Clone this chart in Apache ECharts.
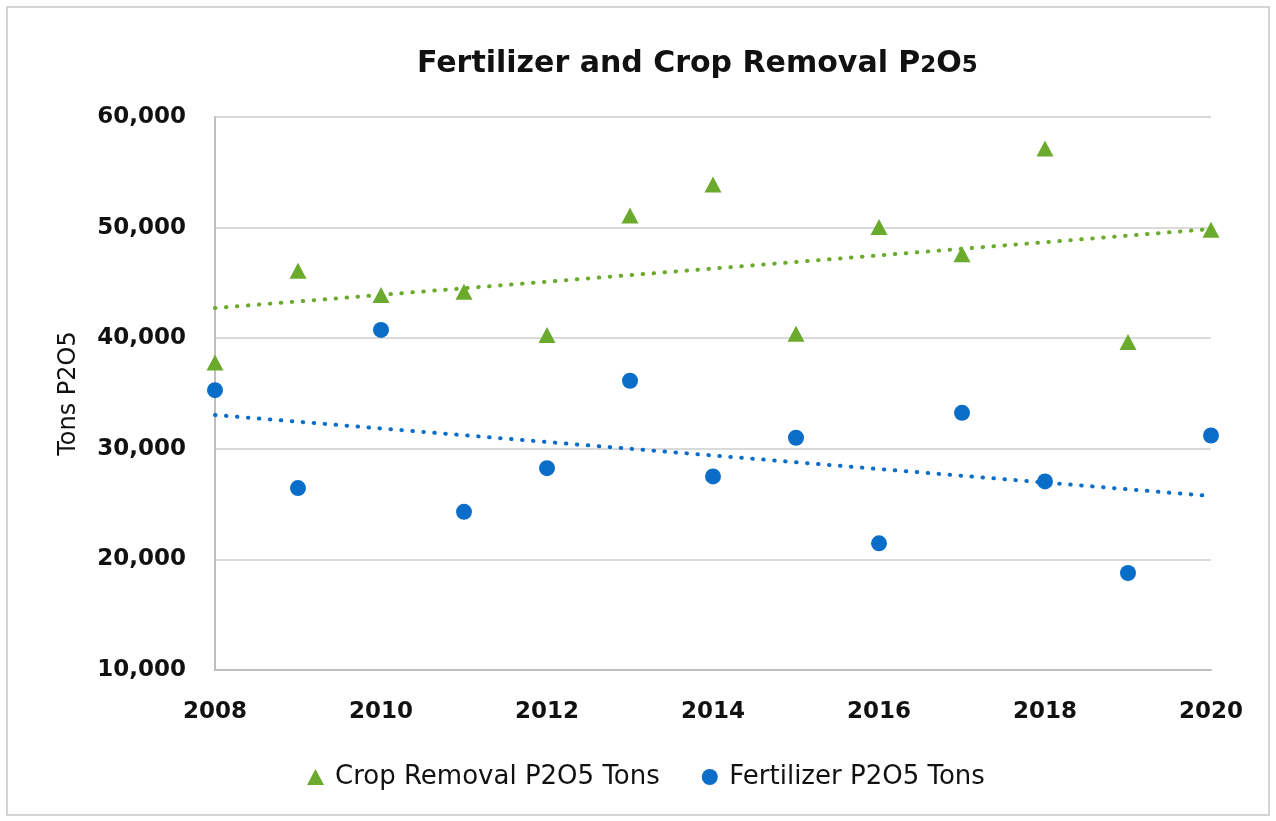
<!DOCTYPE html>
<html>
<head>
<meta charset="utf-8">
<script src="https://cdn.jsdelivr.net/npm/echarts@6/dist/echarts.min.js"></script>
<style>
  html, body { margin: 0; padding: 0; background: #fff; }
  #main { width: 1276px; height: 821px; }
</style>
</head>
<body>
<div id="main"></div>
<script>
// years on the x axis
var years = [2008, 2009, 2010, 2011, 2012, 2013, 2014, 2015, 2016, 2017, 2018, 2019, 2020];

// tons P2O5
var cropRemoval = [37800, 46100, 43900, 44200, 40300, 51100, 53900, 40400, 50050, 47600, 57150, 39650, 49800];
var fertilizer  = [35300, 26450, 40750, 24300, 28250, 36150, 27500, 31000, 21450, 33250, 27050, 18770, 31200];

// dotted trend lines, end points as drawn in the picture
var trendYears = [2008, 2020];
var cropTrend  = [42730, 49870];
var fertTrend  = [33060, 25730];

var GREEN = '#6aab2e';
var BLUE  = '#0a6ec9';

function pairs(xs, ys) {
  var res = [];
  for (var i = 0; i < xs.length; i++) res.push([xs[i], ys[i]]);
  return res;
}

var chart = echarts.init(document.getElementById('main'));
var FONT = 'DejaVu Sans';

chart.setOption({
  animation: false,
  backgroundColor: '#fff',
  textStyle: { fontFamily: FONT },
  title: {
    text: 'Fertilizer and Crop Removal P{s|2}O{s|5}',
    left: 412,
    top: 44,
    textStyle: {
      fontFamily: FONT, fontSize: 30, fontWeight: 'bold', color: '#111',
      rich: { s: { fontFamily: FONT, fontSize: 23, fontWeight: 'bold', color: '#111', padding: [5, 0, 0, 0] } }
    }
  },
  graphic: [{
    type: 'rect',
    shape: { x: 7, y: 7, width: 1262, height: 808 },
    style: { fill: null, stroke: '#d4d4d4', lineWidth: 2 },
    silent: true
  }],
  legend: {
    bottom: 26,
    left: 302,
    itemGap: 42,
    itemWidth: 17,
    itemHeight: 16,
    textStyle: { fontFamily: FONT, fontSize: 26, color: '#111', fontWeight: 500, padding: [0, 0, 0, 6] },
    data: [
      { name: 'Crop Removal P2O5 Tons', icon: 'triangle' },
      { name: 'Fertilizer P2O5 Tons', icon: 'circle' }
    ]
  },
  grid: { left: 215, right: 65, top: 117, bottom: 151 },
  xAxis: {
    type: 'value',
    min: 2008, max: 2020, interval: 2,
    axisLine: { show: true, onZero: false, lineStyle: { color: '#bfbfbf', width: 2 } },
    axisTick: { show: false },
    splitLine: { show: false },
    axisLabel: {
      fontFamily: FONT, fontSize: 23, fontWeight: 'bold', color: '#111', margin: 31,
      formatter: function (v) { return String(v); }
    }
  },
  yAxis: {
    type: 'value',
    min: 10000, max: 60000, interval: 10000,
    name: 'Tons P2O5',
    nameLocation: 'middle',
    nameGap: 134,
    nameTextStyle: { fontFamily: FONT, fontSize: 24, color: '#111', fontWeight: 500 },
    axisLine: { show: true, lineStyle: { color: '#bfbfbf', width: 2 } },
    axisTick: { show: false },
    splitLine: { lineStyle: { color: '#dadada', width: 2 } },
    axisLabel: {
      fontFamily: FONT, fontSize: 23, fontWeight: 'bold', color: '#111', margin: 29,
      formatter: function (v) { return v.toLocaleString('en-US'); }
    }
  },
  series: [
    {
      name: 'Crop Removal P2O5 Tons',
      type: 'scatter',
      symbol: 'triangle',
      symbolSize: [17, 16],
      itemStyle: { color: GREEN, opacity: 1 },
      data: pairs(years, cropRemoval),
      z: 3
    },
    {
      name: 'Fertilizer P2O5 Tons',
      type: 'scatter',
      symbol: 'circle',
      symbolSize: 16,
      itemStyle: { color: BLUE, opacity: 1 },
      data: pairs(years, fertilizer),
      z: 3
    },
    {
      name: 'crop trend',
      type: 'line',
      symbol: 'none',
      silent: true,
      lineStyle: { color: GREEN, width: 4, type: [0.5, 10.5], cap: 'round' },
      data: pairs(trendYears, cropTrend),
      z: 2
    },
    {
      name: 'fert trend',
      type: 'line',
      symbol: 'none',
      silent: true,
      lineStyle: { color: BLUE, width: 4, type: [0.5, 10.5], cap: 'round' },
      data: pairs(trendYears, fertTrend),
      z: 2
    }
  ]
});
</script>
</body>
</html>
